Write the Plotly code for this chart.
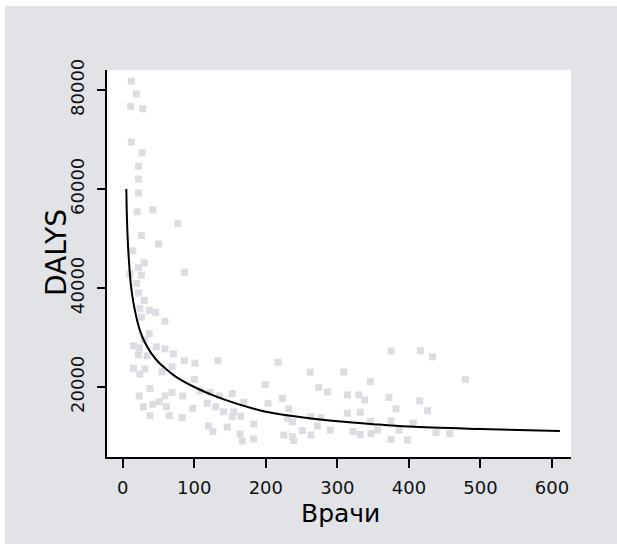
import plotly.graph_objects as go

# Scatter data (Врачи, DALYS)
vrachi = [12, 19, 11, 28, 12, 27, 22, 22, 22, 20, 42, 77,
          26, 50, 14, 30, 22, 86, 26, 10, 19, 22, 30, 24, 37, 46, 26, 59, 37, 30, 15, 23, 47, 59,
          22, 71, 34, 86, 101, 133, 15, 31, 24, 69, 55, 100, 38, 23, 59, 69, 84, 29, 42, 51, 61, 98,
          38, 65, 83, 108, 122, 135, 153, 118, 130, 141, 120, 126, 146,
          217, 262, 309, 199, 274, 286, 314, 169, 155, 153, 165, 203, 223, 232, 183, 164, 167, 183,
          225, 237, 239, 251, 263, 272, 290, 263, 277, 230, 237, 314,
          375, 416, 433, 346, 479, 330, 338, 372, 415, 382, 426, 332, 346, 375, 406, 322, 332, 347,
          356, 386, 375, 398, 438, 457]
dalys = [81800, 79200, 76700, 76200, 69500, 67300, 64600, 62000, 59200, 55400, 55800, 53000,
         50600, 48900, 47500, 45100, 44100, 43200, 42600, 42800, 40900, 39000, 37500, 35900, 35500, 35100, 34100, 33300, 30800, 29500, 28300, 27900, 28100, 27700,
         26500, 26700, 26300, 25300, 24800, 25300, 23800, 23600, 22600, 24100, 23100, 21500, 19700, 18200, 18200, 18900, 18200, 16000, 16500, 17000, 16000, 15700,
         14200, 14200, 13800, 19200, 18900, 18200, 18700, 16700, 16000, 15000, 12100, 11000, 11900,
         25000, 23000, 23000, 20500, 19900, 19000, 18400, 16900, 15000, 14000, 14100, 16700, 17700, 15600, 12500, 10500, 9100, 9500,
         10300, 10000, 9200, 11200, 10300, 12100, 11300, 14000, 13800, 13700, 13000, 14700,
         27300, 27300, 26100, 21100, 21500, 18400, 17400, 17900, 17200, 15600, 15200, 14900, 13100, 13200, 12700, 11000, 10400, 10600,
         11300, 11300, 9400, 9300, 10800, 10600]

# Fitted curve, points
curve_x = [5, 6, 8, 11.5, 15, 20, 25, 31, 40, 50, 60, 75, 100, 130, 160, 200, 250, 300, 350,
           400, 500, 611]
curve_y = [60000, 53500, 47000, 40500, 37000, 33500, 31000, 29000, 26800, 25000, 23700, 22000,
           20000, 18100, 16600, 15000, 13900, 13100, 12500, 12000, 11500, 11100]

x_ticks = [0, 100, 200, 300, 400, 500, 600]
y_ticks = [20000, 40000, 60000, 80000]
x_title = "Врачи"
y_title = "DALYS"

BG = "#e2e3e7"
FONT = "DejaVu Sans"

fig = go.Figure()
fig.add_trace(go.Scatter(x=vrachi, y=dalys, mode="markers",
                         marker=dict(symbol="square", size=7, color="#dcdde2", line=dict(width=0)),
                         showlegend=False, hoverinfo="skip"))
fig.add_trace(go.Scatter(x=curve_x, y=curve_y, mode="lines",
                         line=dict(color="black", width=2, shape="spline", smoothing=1.0),
                         showlegend=False, hoverinfo="skip"))

L, R, T, B = 107, 46, 70, 87
W, H = 617, 544
pw, ph = W - L - R, H - T - B

def px2x(px):
    return (px - L) / pw

def py2y(py):
    return (H - B - py) / ph

fig.update_layout(
    width=W, height=H,
    margin=dict(l=L, r=R, t=T, b=B, pad=0),
    paper_bgcolor=BG, plot_bgcolor="white",
    font=dict(family=FONT, color="black"),
    xaxis=dict(range=[-22, 626.5], tickvals=x_ticks, ticktext=[str(v) for v in x_ticks],
               showgrid=False, zeroline=False, showline=True, linecolor="black", linewidth=2,
               ticks="outside", ticklen=9, tickwidth=2, tickcolor="black",
               tickfont=dict(size=18, family=FONT, color="#111111"), ticklabelstandoff=4),
    yaxis=dict(range=[5860, 84040], tickvals=y_ticks, ticktext=[str(v) for v in y_ticks],
               showgrid=False, zeroline=False, showline=True, linecolor="black", linewidth=2,
               ticks="outside", ticklen=8, tickwidth=2, tickcolor="black", tickangle=-90,
               tickfont=dict(size=18, family=FONT, color="#111111"), ticklabelstandoff=6),
    annotations=[
        dict(text=x_title, xref="paper", yref="paper", x=px2x(340), y=py2y(513),
             xanchor="center", yanchor="middle", showarrow=False,
             font=dict(size=25, family=FONT, color="black")),
        dict(text=y_title, xref="paper", yref="paper", x=px2x(57), y=py2y(253),
             xanchor="center", yanchor="middle", showarrow=False, textangle=-90,
             font=dict(size=28, family=FONT, color="black")),
    ],
    shapes=[
        dict(type="rect", xref="paper", yref="paper", x0=px2x(-5), x1=px2x(W + 5),
             y0=py2y(6), y1=py2y(-5), fillcolor="white", line=dict(width=0), layer="below"),
        dict(type="rect", xref="paper", yref="paper", x0=px2x(-5), x1=px2x(5),
             y0=py2y(H + 5), y1=py2y(-5), fillcolor="white", line=dict(width=0), layer="below"),
    ],
)

fig.write_html(
    "out.html",
    config={"displayModeBar": False, "staticPlot": True},
    post_script=("document.body.style.margin='0';document.body.style.overflow='hidden';"
                 "document.body.style.background='" + BG + "';"
                 "document.documentElement.style.background='" + BG + "';"),
)
